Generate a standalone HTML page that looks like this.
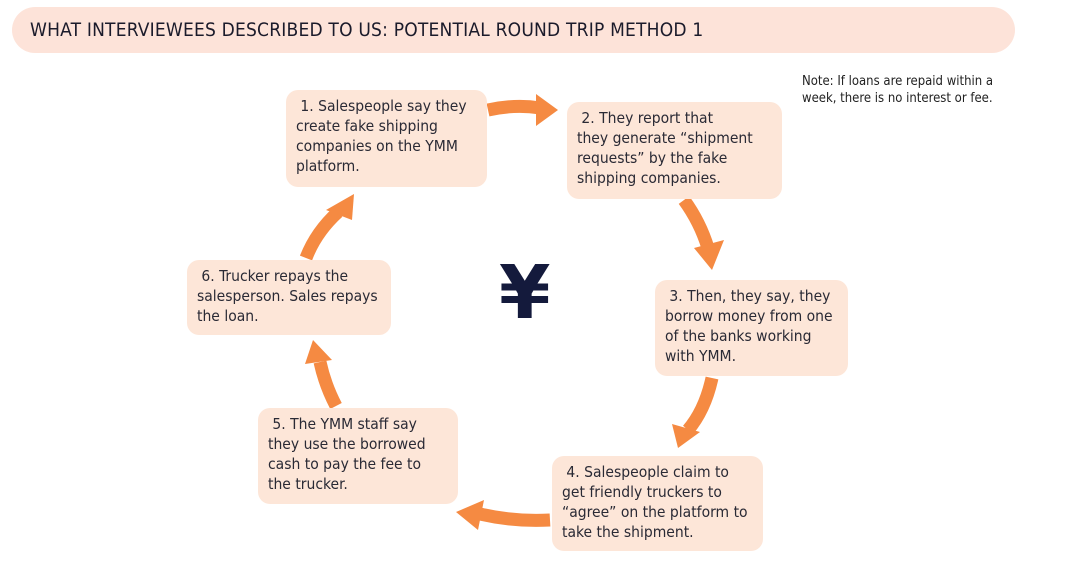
<!DOCTYPE html>
<html><head><meta charset="utf-8"><style>
body{margin:0;width:1080px;height:562px;background:#fff;position:relative;overflow:hidden;font-family:"DejaVu Sans Condensed","Liberation Sans",sans-serif;}
.hdr{position:absolute;left:12px;top:7px;width:1003px;height:46px;background:#fde3d9;border-radius:23px;}
.hdr span{position:absolute;left:18px;top:12px;font-size:19px;color:#1b1b2b;letter-spacing:0.2px;}
.note{position:absolute;left:802px;top:73px;font-size:13px;line-height:17px;color:#222;}
.b{position:absolute;background:#fde6d8;border-radius:12px;font-size:15.5px;line-height:20px;color:#2a2a35;padding:6px 10px;box-sizing:border-box;}
.yen{position:absolute;left:499px;top:250px;font-size:74px;font-weight:bold;color:#141a3c;font-family:"DejaVu Sans",sans-serif;}
</style></head><body>
<div class="hdr"><span>WHAT INTERVIEWEES DESCRIBED TO US: POTENTIAL ROUND TRIP METHOD 1</span></div>
<div class="note">Note: If loans are repaid within a<br>week, there is no interest or fee.</div>
<svg width="1080" height="562" style="position:absolute;left:0;top:0">
<g fill="none" stroke="#f58a42" stroke-width="13">
<path d="M488 110 Q515 104 540 108"/>
<path d="M684 200 Q700 222 708 248"/>
<path d="M712 378 Q705 410 688 430"/>
<path d="M550 520 Q515 522 480 514"/>
<path d="M336 406 Q325 385 320 362"/>
<path d="M306 258 Q316 232 338 212"/>
</g>
<g fill="#f58a42">
<polygon points="536,94 558,110 536,126"/>
<polygon points="694,248 724,240 712,270"/>
<polygon points="672,424 700,432 678,448"/>
<polygon points="484,500 478,530 456,512"/>
<polygon points="305,364 332,360 313,340"/>
<polygon points="326,210 352,220 354,194"/>
</g>
</svg>
<div class="b" style="left:286px;top:90px;width:201px;height:97px;">&nbsp;1. Salespeople say they create fake shipping companies on the YMM platform.</div>
<div class="b" style="left:567px;top:102px;width:215px;height:97px;">&nbsp;2. They report that<br>they generate “shipment requests” by the fake shipping companies.</div>
<div class="b" style="left:655px;top:280px;width:193px;height:96px;">&nbsp;3. Then, they say, they borrow money from one of the banks working with YMM.</div>
<div class="b" style="left:552px;top:456px;width:211px;height:95px;">&nbsp;4. Salespeople claim to get friendly truckers to “agree” on the platform to take the shipment.</div>
<div class="b" style="left:258px;top:408px;width:200px;height:96px;">&nbsp;5. The YMM staff say they use the borrowed cash to pay the fee to the trucker.</div>
<div class="b" style="left:187px;top:260px;width:204px;height:75px;">&nbsp;6. Trucker repays the salesperson. Sales repays the loan.</div>
<div class="yen">¥</div>
</body></html>
